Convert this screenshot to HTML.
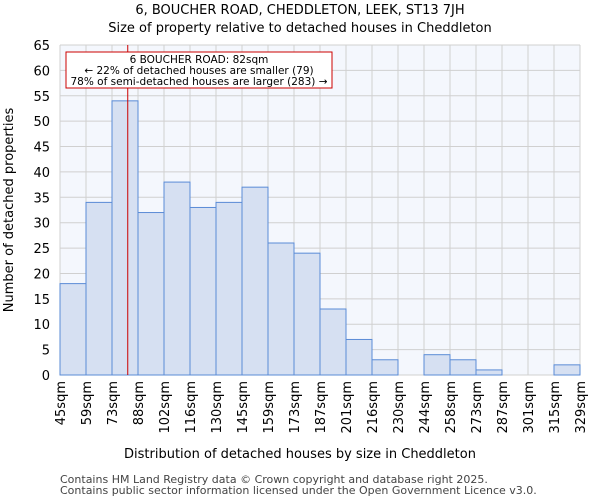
<!DOCTYPE html>
<html><head><meta charset="utf-8"><style>
body{margin:0;background:#fff;font-family:"DejaVu Sans","Liberation Sans",sans-serif}
</style></head><body>
<svg id="c" width="600" height="500" xmlns="http://www.w3.org/2000/svg" font-family="DejaVu Sans, Liberation Sans, sans-serif">
<text x="300" y="14" text-anchor="middle" font-size="13">6, BOUCHER ROAD, CHEDDLETON, LEEK, ST13 7JH</text>
<text x="300" y="32" text-anchor="middle" font-size="13">Size of property relative to detached houses in Cheddleton</text>
<rect x="60" y="45" width="520" height="330" fill="#f4f7fd"/>
<g id="grid"></g><g id="bars"></g><g id="axes"></g>
<text x="300" y="458" text-anchor="middle" font-size="13">Distribution of detached houses by size in Cheddleton</text>
<text transform="translate(13,210) rotate(-90)" text-anchor="middle" font-size="13">Number of detached properties</text>
<text x="60" y="483" font-size="11" fill="#444">Contains HM Land Registry data © Crown copyright and database right 2025.</text>
<text x="60" y="494" font-size="11" fill="#444">Contains public sector information licensed under the Open Government Licence v3.0.</text>
</svg>
<script>
const categories=["45sqm","59sqm","73sqm","88sqm","102sqm","116sqm","130sqm","145sqm","159sqm","173sqm","187sqm","201sqm","216sqm","230sqm","244sqm","258sqm","273sqm","287sqm","301sqm","315sqm","329sqm"];
const values=[18,34,54,32,38,33,34,37,26,24,13,7,3,0,4,3,1,0,0,2];
const yTicks=[0,5,10,15,20,25,30,35,40,45,50,55,60,65];
const binStart=45, binWidth=14.2, markerValue=82;
const NS="http://www.w3.org/2000/svg";
const L=60,R=580,T=45,B=375,yMax=65;
const xs=i=>L+i*(R-L)/values.length;
const xv=v=>L+(v-binStart)/binWidth*(R-L)/values.length;
const ys=v=>B-v/yMax*(B-T);
function mk(p,tag,a){const e=document.createElementNS(NS,tag);for(const k in a)e.setAttribute(k,a[k]);document.getElementById(p).appendChild(e);return e;}
yTicks.forEach(t=>{
 const g=mk('grid','line',{x1:L,x2:R,y1:ys(t),y2:ys(t),stroke:'#d0d0d0'});
 
 
 const tx=mk('axes','text',{x:L-10,y:ys(t)+5,'text-anchor':'end','font-size':13});
 tx.textContent=t;
 
 
});
categories.forEach((c,i)=>{
 const g=mk('grid','line',{x1:xs(i),x2:xs(i),y1:T,y2:B,stroke:'#d0d0d0'});
 
 
 const tx=mk('axes','text',{transform:`translate(${xs(i)+5},381) rotate(-90)`,'text-anchor':'end','font-size':13});
 tx.textContent=c;
 
 
});
values.forEach((v,i)=>{
 const r=mk('bars','rect',{x:xs(i),y:ys(v),width:xs(i+1)-xs(i),height:B-ys(v),fill:'#d6e0f2',stroke:'#5a8bd6','stroke-width':1});
 
 
});
const mx=xv(markerValue);
const ml=mk('axes','line',{x1:mx,x2:mx,y1:T,y2:B,stroke:'#cc0000','stroke-width':1});


const box=mk('axes','rect',{x:66,y:52,width:266,height:36,fill:'#fff',stroke:'#cc0000'});


["6 BOUCHER ROAD: 82sqm","← 22% of detached houses are smaller (79)","78% of semi-detached houses are larger (283) →"].forEach((s,i)=>{
 const t=mk('axes','text',{x:199,y:63+i*11,'text-anchor':'middle','font-size':10.5});
 t.textContent=s;
 
 
});
</script>
</body></html>
